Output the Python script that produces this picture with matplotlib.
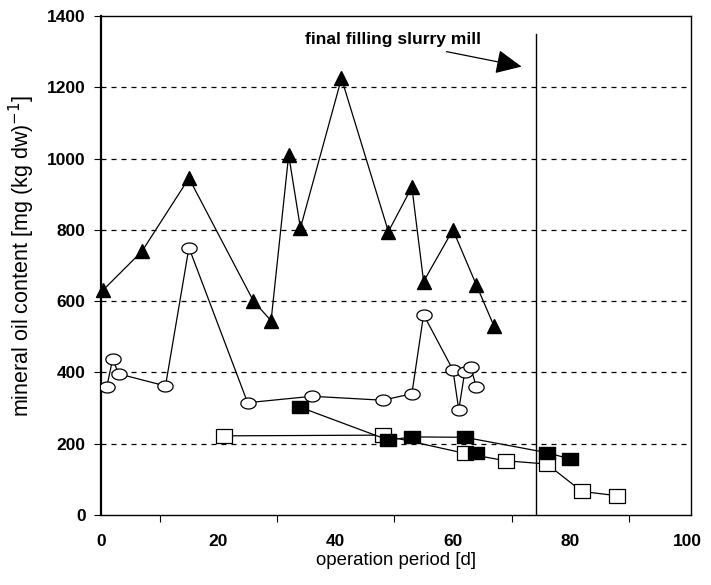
import numpy as np
import matplotlib.pyplot as plt

# filled triangles
tri_x = [0.3, 7, 15, 26, 29, 32, 34, 41, 49, 53, 55, 60, 64, 67]
tri_y = [630, 740, 945, 600, 545, 1010, 805, 1225, 795, 920, 655, 800, 645, 530]

# open circles
circ_x = [1, 2, 3, 11, 15, 25, 36, 48, 53, 55, 60, 61, 62, 63, 64]
circ_y = [360, 438, 396, 362, 750, 315, 333, 322, 340, 562, 407, 295, 400, 416, 359]

# filled squares (line through these, one extra point without line)
fsq_x = [34, 49, 53, 62, 76, 80]
fsq_y = [302, 210, 219, 218, 175, 157]
fsq_extra_x = [64]
fsq_extra_y = [173]

# open squares
osq_x = [21, 48, 62, 69, 76, 82, 88]
osq_y = [222, 224, 173, 152, 143, 66, 54]

fill_day = 74.2

xticklabels = ['0', '20', '40', '60', '80', '100']
yticks = [0, 200, 400, 600, 800, 1000, 1200, 1400]

plt.rcParams['font.family'] = ['Liberation Sans', 'DejaVu Sans']

t = np.linspace(0, 2 * np.pi, 60)
ellipse = np.column_stack([np.cos(t), 0.72 * np.sin(t)])
rect = [(-1, -0.8), (1, -0.8), (1, 0.8), (-1, 0.8), (-1, -0.8)]

fig = plt.figure(figsize=(7.11, 5.85), dpi=100)
ax = fig.add_axes([0.142, 0.1197, 0.830, 0.853])

for y in yticks[1:-1]:
    ax.axhline(y, color='black', lw=0.9, ls=(0, (4, 4)), zorder=1)

ax.plot([fill_day, fill_day], [0, 1350], color='black', lw=1.0, zorder=2)

ax.plot(tri_x, tri_y, '-', color='black', lw=0.9, marker='^', ms=10,
        mfc='black', mec='black', zorder=4, clip_on=False)
ax.plot(circ_x, circ_y, '-', color='black', lw=0.9, marker=ellipse, ms=11,
        mfc='white', mec='black', mew=0.9, zorder=4)
ax.plot(osq_x, osq_y, '-', color='black', lw=0.9, marker=rect, ms=12,
        mfc='white', mec='black', mew=0.9, zorder=3)
ax.plot(fsq_x, fsq_y, '-', color='black', lw=0.9, marker=rect, ms=11,
        mfc='black', mec='black', zorder=4)
ax.plot(fsq_extra_x, fsq_extra_y, ls='none', marker=rect, ms=11,
        mfc='black', mec='black', zorder=4)

ax.annotate('', xy=(71.7, 1258), xytext=(58.9, 1300),
            arrowprops=dict(arrowstyle='-|>,head_length=1.6,head_width=0.75',
                            color='black', lw=0.9, shrinkA=0, shrinkB=0))
ax.text(34.8, 1333, 'final filling slurry mill', fontsize=12.6,
        fontweight='bold', va='center', ha='left')

ax.set_xlim(0, 100.6)
ax.set_ylim(0, 1400)
ax.set_xticks([0, 20, 40, 60, 80, 100])
ax.set_xticklabels(xticklabels)
ax.set_xticks([10, 30, 50, 70, 90], minor=True)
ax.tick_params(axis='x', which='major', length=0, pad=14)
ax.tick_params(axis='x', which='minor', length=5, direction='out', width=0.8)
ax.set_yticks(yticks)
ax.tick_params(axis='y', length=5, width=0.8, pad=6)
for lab in ax.get_xticklabels() + ax.get_yticklabels():
    lab.set_fontweight('bold')
    lab.set_fontsize(12.5)

ax.set_xlabel('operation period [d]', fontsize=13.4, labelpad=2)
ax.set_ylabel('mineral oil content [mg (kg dw)$^{-1}$]', fontsize=15.5)
ax.yaxis.set_label_coords(-0.108, 0.52)

for s in ['top', 'right', 'bottom']:
    ax.spines[s].set_linewidth(1.0)
ax.spines['left'].set_linewidth(1.6)

fig.savefig('out.png', dpi=100)
